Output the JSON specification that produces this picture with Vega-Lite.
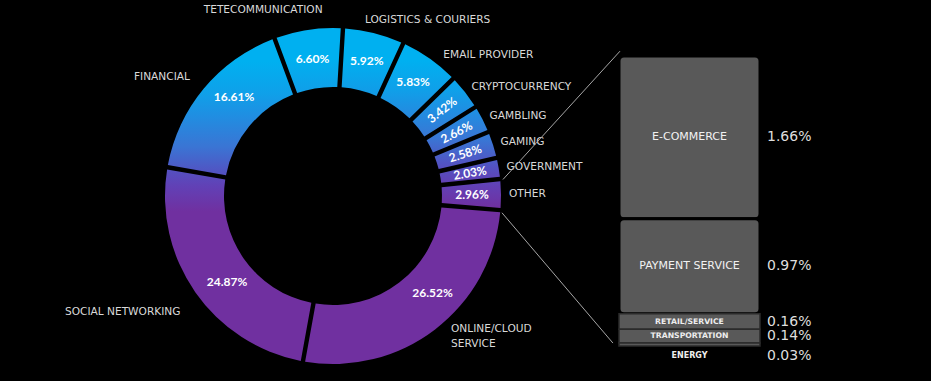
{
  "$schema": "https://vega.github.io/schema/vega-lite/v6.json",
  "background": "#000000",
  "padding": {"left": 47, "top": 5, "right": 0, "bottom": 0},
  "config": {"view": {"stroke": null}, "text": {"font": "DejaVu Sans"}},
  "spacing": 0,
  "bounds": "flush",
  "hconcat": [
    {
      "width": 572,
      "height": 370,
      "data": {"values": [
        {"cat": "LOGISTICS & COURIERS", "pct": 5.92, "ord": 1},
        {"cat": "EMAIL PROVIDER", "pct": 5.83, "ord": 2},
        {"cat": "CRYPTOCURRENCY", "pct": 3.42, "ord": 3},
        {"cat": "GAMBLING", "pct": 2.66, "ord": 4},
        {"cat": "GAMING", "pct": 2.58, "ord": 5},
        {"cat": "GOVERNMENT", "pct": 2.03, "ord": 6},
        {"cat": "OTHER", "pct": 2.96, "ord": 7},
        {"cat": "ONLINE/CLOUD SERVICE", "pct": 26.52, "ord": 8},
        {"cat": "SOCIAL NETWORKING", "pct": 24.87, "ord": 9},
        {"cat": "FINANCIAL", "pct": 16.61, "ord": 10},
        {"cat": "TETECOMMUNICATION", "pct": 6.60, "ord": 11}
      ]},
      "transform": [
        {"window": [{"op": "sum", "field": "pct", "as": "end"}], "sort": [{"field": "ord", "order": "ascending"}], "frame": [null, 0]},
        {"calculate": "datum.end - datum.pct", "as": "start"},
        {"calculate": "datum.end - datum.pct / 2", "as": "mid"},
        {"calculate": "datum.pct < 4 ? datum.mid * 3.6 + 3.4 - 90 : 0", "as": "rot"},
        {"calculate": "format(datum.pct, '.2f') + '%'", "as": "plabel"},
        {"calculate": "datum.cat === 'ONLINE/CLOUD SERVICE' ? 'ONLINE/CLOUD\\nSERVICE' : datum.cat", "as": "nlabel"}
      ],
      "layer": [
        {
          "mark": {"type": "arc", "innerRadius": 109, "outerRadius": 168, "padAngle": 0.022},
          "encoding": {
            "theta": {"field": "start", "type": "quantitative", "stack": null, "scale": {"domain": [0, 100], "range": [0.0593, 6.3425]}},
            "theta2": {"field": "end"},
            "color": {
              "condition": [
                {"test": "datum.ord === 1", "value": {"gradient": "linear", "x1": 0, "y1": 0, "x2": 0, "y2": 1, "stops": [{"offset": 0, "color": "#00b0f0"}, {"offset": 0.46, "color": "#00b0f0"}, {"offset": 1, "color": "#1399e6"}]}},
                {"test": "datum.ord === 2", "value": {"gradient": "linear", "x1": 0, "y1": 0, "x2": 0, "y2": 1, "stops": [{"offset": 0, "color": "#00b0f0"}, {"offset": 0.22, "color": "#00b0f0"}, {"offset": 0.61, "color": "#0fa0e9"}, {"offset": 0.87, "color": "#1f8fe2"}, {"offset": 1, "color": "#2886dd"}]}},
                {"test": "datum.ord === 3", "value": {"gradient": "linear", "x1": 0, "y1": 0, "x2": 0, "y2": 1, "stops": [{"offset": 0, "color": "#0aa6ec"}, {"offset": 0.19, "color": "#0fa0e9"}, {"offset": 0.525, "color": "#1f8fe2"}, {"offset": 1, "color": "#3877d5"}]}},
                {"test": "datum.ord === 4", "value": {"gradient": "linear", "x1": 0, "y1": 0, "x2": 0, "y2": 1, "stops": [{"offset": 0, "color": "#1d91e3"}, {"offset": 0.06, "color": "#1f8fe2"}, {"offset": 0.69, "color": "#3a75d4"}, {"offset": 1, "color": "#4861c9"}]}},
                {"test": "datum.ord === 5", "value": {"gradient": "linear", "x1": 0, "y1": 0, "x2": 0, "y2": 1, "stops": [{"offset": 0, "color": "#337cd8"}, {"offset": 0.2, "color": "#3a75d4"}, {"offset": 0.85, "color": "#5253c2"}, {"offset": 1, "color": "#574dbe"}]}},
                {"test": "datum.ord === 6", "value": {"gradient": "linear", "x1": 0, "y1": 0, "x2": 0, "y2": 1, "stops": [{"offset": 0, "color": "#4b5cc7"}, {"offset": 0.26, "color": "#5253c2"}, {"offset": 1, "color": "#6240b5"}]}},
                {"test": "datum.ord === 7", "value": {"gradient": "linear", "x1": 0, "y1": 0, "x2": 0, "y2": 1, "stops": [{"offset": 0, "color": "#5d46b9"}, {"offset": 0.19, "color": "#6240b5"}, {"offset": 1, "color": "#7030a0"}]}},
                {"test": "datum.ord === 9", "value": {"gradient": "linear", "x1": 0, "y1": 0, "x2": 0, "y2": 1, "stops": [{"offset": 0, "color": "#5451c1"}, {"offset": 0.093, "color": "#6240b5"}, {"offset": 0.22, "color": "#7030a0"}, {"offset": 1, "color": "#7030a0"}]}},
                {"test": "datum.ord === 10", "value": {"gradient": "linear", "x1": 0, "y1": 0, "x2": 0, "y2": 1, "stops": [{"offset": 0, "color": "#00b0f0"}, {"offset": 0.164, "color": "#00b0f0"}, {"offset": 0.4, "color": "#0fa0e9"}, {"offset": 0.555, "color": "#1f8fe2"}, {"offset": 0.789, "color": "#3a75d4"}, {"offset": 0.98, "color": "#5253c2"}, {"offset": 1, "color": "#5451c1"}]}},
                {"test": "datum.ord === 11", "value": {"gradient": "linear", "x1": 0, "y1": 0, "x2": 0, "y2": 1, "stops": [{"offset": 0, "color": "#00b0f0"}, {"offset": 0.485, "color": "#00b0f0"}, {"offset": 0.94, "color": "#0fa0e9"}, {"offset": 1, "color": "#129de8"}]}}
              ],
              "value": "#7030a0"
            }
          }
        },
        {
          "transform": [{"filter": "datum.ord <= 7 || datum.ord === 11"}],
          "mark": {"type": "text", "radius": 139, "font": "Lato", "fontWeight": "bold", "fontSize": 12, "color": "#ffffff", "baseline": "middle", "align": "center"},
          "encoding": {
            "theta": {"field": "mid", "type": "quantitative", "stack": null, "scale": {"domain": [0, 100], "range": [0.0593, 6.3425]}},
            "text": {"field": "plabel"},
            "angle": {"field": "rot", "type": "quantitative", "scale": null}
          }
        },
        {
          "transform": [{"filter": "datum.ord === 8"}],
          "mark": {"type": "text", "radius": 139, "font": "Lato", "fontWeight": "bold", "fontSize": 12, "color": "#ffffff", "baseline": "middle", "align": "center", "dx": 15, "dy": -13},
          "encoding": {
            "theta": {"field": "mid", "type": "quantitative", "stack": null, "scale": {"domain": [0, 100], "range": [0.0593, 6.3425]}},
            "text": {"field": "plabel"}
          }
        },
        {
          "transform": [{"filter": "datum.ord === 9"}],
          "mark": {"type": "text", "radius": 139, "font": "Lato", "fontWeight": "bold", "fontSize": 12, "color": "#ffffff", "baseline": "middle", "align": "center", "dx": 8, "dy": 6},
          "encoding": {
            "theta": {"field": "mid", "type": "quantitative", "stack": null, "scale": {"domain": [0, 100], "range": [0.0593, 6.3425]}},
            "text": {"field": "plabel"}
          }
        },
        {
          "transform": [{"filter": "datum.ord === 10"}],
          "mark": {"type": "text", "radius": 139, "font": "Lato", "fontWeight": "bold", "fontSize": 12, "color": "#ffffff", "baseline": "middle", "align": "center", "dx": 8, "dy": -10},
          "encoding": {
            "theta": {"field": "mid", "type": "quantitative", "stack": null, "scale": {"domain": [0, 100], "range": [0.0593, 6.3425]}},
            "text": {"field": "plabel"}
          }
        },
        {
          "transform": [{"filter": "datum.ord === 1"}],
          "mark": {"type": "text", "radius": 181, "fontSize": 10.6, "color": "#d9d9d9", "baseline": "middle", "align": "left", "dx": -12},
          "encoding": {
            "theta": {"field": "mid", "type": "quantitative", "stack": null, "scale": {"domain": [0, 100], "range": [0.0593, 6.3425]}},
            "text": {"field": "nlabel"}
          }
        },
        {
          "transform": [{"filter": "datum.ord === 2"}],
          "mark": {"type": "text", "radius": 181, "fontSize": 10.6, "color": "#d9d9d9", "baseline": "middle", "align": "left", "dx": 6, "dy": 7},
          "encoding": {
            "theta": {"field": "mid", "type": "quantitative", "stack": null, "scale": {"domain": [0, 100], "range": [0.0593, 6.3425]}},
            "text": {"field": "nlabel"}
          }
        },
        {
          "transform": [{"filter": "datum.ord === 8"}],
          "mark": {"type": "text", "radius": 181, "fontSize": 10.6, "color": "#d9d9d9", "lineBreak": "\n", "baseline": "middle", "lineHeight": 15, "align": "left", "dx": 8, "dy": -11},
          "encoding": {
            "theta": {"field": "mid", "type": "quantitative", "stack": null, "scale": {"domain": [0, 100], "range": [0.0593, 6.3425]}},
            "text": {"field": "nlabel"}
          }
        },
        {
          "transform": [{"filter": "datum.ord >= 3 && datum.ord <= 7"}],
          "mark": {"type": "text", "radius": 176, "fontSize": 10.6, "color": "#d9d9d9", "baseline": "middle", "align": "left"},
          "encoding": {
            "theta": {"field": "mid", "type": "quantitative", "stack": null, "scale": {"domain": [0, 100], "range": [0.0593, 6.3425]}},
            "text": {"field": "nlabel"}
          }
        },
        {
          "transform": [{"filter": "datum.ord === 9"}],
          "mark": {"type": "text", "radius": 186, "fontSize": 10.6, "color": "#d9d9d9", "baseline": "middle", "align": "right", "dy": 10},
          "encoding": {
            "theta": {"field": "mid", "type": "quantitative", "stack": null, "scale": {"domain": [0, 100], "range": [0.0593, 6.3425]}},
            "text": {"field": "nlabel"}
          }
        },
        {
          "transform": [{"filter": "datum.ord === 10"}],
          "mark": {"type": "text", "radius": 186, "fontSize": 10.6, "color": "#d9d9d9", "baseline": "middle", "align": "right"},
          "encoding": {
            "theta": {"field": "mid", "type": "quantitative", "stack": null, "scale": {"domain": [0, 100], "range": [0.0593, 6.3425]}},
            "text": {"field": "nlabel"}
          }
        },
        {
          "transform": [{"filter": "datum.ord === 11"}],
          "mark": {"type": "text", "radius": 186, "fontSize": 10.6, "color": "#d9d9d9", "baseline": "middle", "align": "right", "dx": 17, "dy": -2},
          "encoding": {
            "theta": {"field": "mid", "type": "quantitative", "stack": null, "scale": {"domain": [0, 100], "range": [0.0593, 6.3425]}},
            "text": {"field": "nlabel"}
          }
        }
      ]
    },
    {
      "width": 312,
      "height": 335,
      "data": {"values": [
        {"sub": "E-COMMERCE", "pct": 1.66, "ord": 1},
        {"sub": "PAYMENT SERVICE", "pct": 0.97, "ord": 2},
        {"sub": "RETAIL/SERVICE", "pct": 0.16, "ord": 3},
        {"sub": "TRANSPORTATION", "pct": 0.14, "ord": 4},
        {"sub": "ENERGY", "pct": 0.03, "ord": 5}
      ]},
      "transform": [
        {"stack": "pct", "groupby": [], "sort": [{"field": "ord", "order": "descending"}], "as": ["y0", "y1"]},
        {"calculate": "(datum.y0 + datum.y1) / 2", "as": "ym"},
        {"calculate": "format(datum.pct, '.2f') + '%'", "as": "plabel"}
      ],
      "layer": [
        {
          "transform": [{"filter": "datum.ord <= 2"}],
          "mark": {"type": "rect", "cornerRadius": 5, "fill": "#595959", "stroke": "#000000", "strokeWidth": 3},
          "encoding": {
            "x": {"datum": 0, "type": "quantitative", "scale": {"domain": [0, 2.2128]}, "axis": null},
            "x2": {"datum": 1},
            "y": {"field": "y0", "type": "quantitative", "scale": {"domain": [0, 3.42]}, "axis": null},
            "y2": {"field": "y1"}
          }
        },
        {
          "transform": [{"filter": "datum.ord >= 3"}],
          "mark": {"type": "rect", "fill": "#595959", "stroke": "#2b2b2b", "strokeWidth": 1.5},
          "encoding": {
            "x": {"datum": 0, "type": "quantitative", "scale": {"domain": [0, 2.2128]}, "axis": null},
            "x2": {"datum": 1},
            "y": {"field": "y0", "type": "quantitative", "scale": {"domain": [0, 3.42]}, "axis": null},
            "y2": {"field": "y1"}
          }
        },
        {
          "transform": [{"filter": "datum.ord <= 2"}],
          "mark": {"type": "text", "fontSize": 11, "color": "#f2f2f2", "align": "center", "baseline": "middle"},
          "encoding": {
            "x": {"datum": 0.5, "type": "quantitative", "scale": {"domain": [0, 2.2128]}, "axis": null},
            "y": {"field": "ym", "type": "quantitative", "scale": {"domain": [0, 3.42]}, "axis": null},
            "text": {"field": "sub"}
          }
        },
        {
          "transform": [{"filter": "datum.ord >= 3 && datum.ord <= 4"}],
          "mark": {"type": "text", "fontSize": 7.7, "fontWeight": "bold", "color": "#eeeeee", "align": "center", "baseline": "middle"},
          "encoding": {
            "x": {"datum": 0.5, "type": "quantitative", "scale": {"domain": [0, 2.2128]}, "axis": null},
            "y": {"field": "ym", "type": "quantitative", "scale": {"domain": [0, 3.42]}, "axis": null},
            "text": {"field": "sub"}
          }
        },
        {
          "transform": [{"filter": "datum.ord === 5"}],
          "mark": {"type": "text", "fontSize": 8, "fontWeight": "bold", "color": "#eeeeee", "align": "center", "baseline": "middle", "dy": 10},
          "encoding": {
            "x": {"datum": 0.5, "type": "quantitative", "scale": {"domain": [0, 2.2128]}, "axis": null},
            "y": {"field": "y0", "type": "quantitative", "scale": {"domain": [0, 3.42]}, "axis": null},
            "text": {"field": "sub"}
          }
        },
        {
          "transform": [{"filter": "datum.ord <= 4"}],
          "mark": {"type": "text", "fontSize": 14, "color": "#dedede", "align": "left", "baseline": "middle", "dx": 7},
          "encoding": {
            "x": {"datum": 1, "type": "quantitative", "scale": {"domain": [0, 2.2128]}, "axis": null},
            "y": {"field": "ym", "type": "quantitative", "scale": {"domain": [0, 3.42]}, "axis": null},
            "text": {"field": "plabel"}
          }
        },
        {
          "transform": [{"filter": "datum.ord === 5"}],
          "mark": {"type": "text", "fontSize": 14, "color": "#dedede", "align": "left", "baseline": "middle", "dx": 7, "dy": 10},
          "encoding": {
            "x": {"datum": 1, "type": "quantitative", "scale": {"domain": [0, 2.2128]}, "axis": null},
            "y": {"field": "y0", "type": "quantitative", "scale": {"domain": [0, 3.42]}, "axis": null},
            "text": {"field": "plabel"}
          }
        },
        {
          "transform": [{"filter": "datum.ord === 1"}],
          "mark": {"type": "rule", "color": "#a6a6a6", "strokeWidth": 1},
          "encoding": {
            "x": {"datum": -0.823, "type": "quantitative", "scale": {"domain": [0, 2.2128]}, "axis": null},
            "y": {"datum": 1.70, "type": "quantitative", "scale": {"domain": [0, 3.42]}, "axis": null},
            "x2": {"datum": 0.007},
            "y2": {"datum": 3.01}
          }
        },
        {
          "transform": [{"filter": "datum.ord === 1"}],
          "mark": {"type": "rule", "color": "#a6a6a6", "strokeWidth": 1},
          "encoding": {
            "x": {"datum": -0.83, "type": "quantitative", "scale": {"domain": [0, 2.2128]}, "axis": null},
            "y": {"datum": 1.36, "type": "quantitative", "scale": {"domain": [0, 3.42]}, "axis": null},
            "x2": {"datum": -0.043},
            "y2": {"datum": 0.03}
          }
        }
      ]
    }
  ]
}
